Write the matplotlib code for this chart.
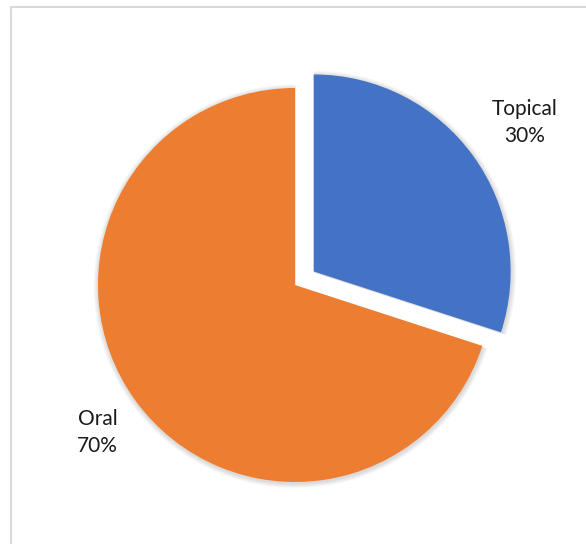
import numpy as np
import matplotlib.pyplot as plt
from matplotlib.patches import Rectangle, Wedge

labels = ['Topical', 'Oral']
shares = [30, 70]
colors = ['#4472C4', '#ED7D31']
explode = [0.117, 0.0]

W, H = 586, 544
fig = plt.figure(figsize=(W / 100, H / 100), dpi=100)
ax = fig.add_axes([0, 0, 1, 1])

# chart area frame
ax.add_patch(Rectangle((11, -10), W + 10, H - 7 + 10, fill=False,
                       edgecolor='#D9D9D9', linewidth=1.5))

center = (295, 259)
radius = 197
# pie() takes explode in data units, so scale by the radius
wedges, _ = ax.pie(shares, colors=colors,
                   explode=[e * radius for e in explode], startangle=90,
                   counterclock=False, center=center, radius=radius,
                   frame=True, wedgeprops=dict(linewidth=0, zorder=3))

# soft drop shadow under each slice
for w in wedges:
    for k in range(6):
        grow = 1 + 0.8 * k
        sh = Wedge((w.center[0] + 0.6, w.center[1] - 1.2), w.r + grow,
                   w.theta1, w.theta2, facecolor='black', alpha=0.025,
                   linewidth=0, zorder=2)
        ax.add_patch(sh)

ax.set_xlim(0, W)
ax.set_ylim(0, H)
ax.set_aspect('equal')
ax.axis('off')

# category + percent labels outside each slice
label_dist = [1.31, 1.25]
for w, name, pct, ld in zip(wedges, labels, shares, label_dist):
    mid = np.deg2rad((w.theta1 + w.theta2) / 2)
    cx, cy = w.center
    d = radius * ld
    ax.text(cx + d * np.cos(mid) + 2, cy + d * np.sin(mid) - 3,
            f'{name}\n{pct}%',
            ha='center', va='center', fontsize=15, family='Lato',
            color='#1a1a1a', linespacing=1.45, zorder=4)

fig.savefig('out.png', dpi=100)
